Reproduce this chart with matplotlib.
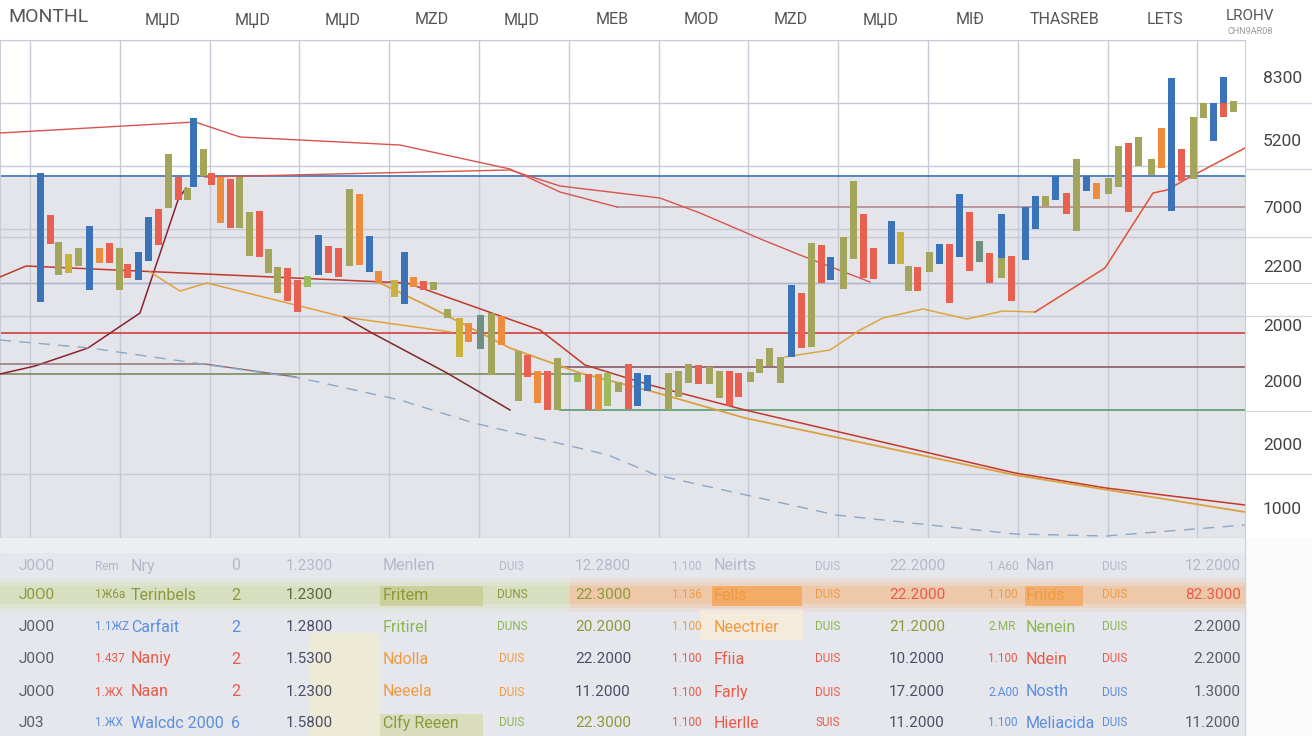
import matplotlib
matplotlib.use("Agg")
import matplotlib.pyplot as plt
from matplotlib.patches import Rectangle

plt.rcParams['font.family'] = ['Roboto', 'DejaVu Sans']

# candles: day, low, high, colour code
day = [40, 50, 58, 68, 78, 89, 99, 109, 119, 127, 138, 148, 158, 168, 178, 187, 193, 203, 211, 220,
       230, 239, 249, 259, 268, 277, 287, 297, 307, 318, 328, 338, 349, 359, 369, 378, 394, 404, 413, 423,
       433, 447, 459, 468, 480, 491, 501, 518, 527, 537, 547, 557, 577, 588, 598, 607, 618, 628, 637, 647,
       668, 678, 688, 698, 709, 719, 729, 738, 750, 759, 769, 780, 791, 801, 811, 821, 830, 843, 853, 863,
       873, 891, 900, 908, 917, 929, 939, 949, 959, 969, 979, 989, 1001, 1001, 1011, 1025, 1035, 1045, 1055, 1066,
       1076, 1086, 1096, 1108, 1118, 1128, 1138, 1151, 1161, 1171, 1181, 1193, 1203, 1213, 1223, 1223, 1233]
low = [298, 356, 325, 327, 334, 310, 337, 337, 310, 322, 320, 339, 355, 392, 400, 400, 413, 424, 415, 377,
       372, 372, 344, 343, 327, 307, 299, 288, 313, 325, 327, 323, 334, 335, 328, 317, 303, 296, 313, 310,
       310, 282, 243, 258, 251, 225, 255, 199, 223, 197, 190, 190, 218, 190, 190, 194, 208, 191, 194, 209,
       190, 203, 217, 216, 216, 202, 194, 203, 218, 227, 234, 217, 243, 252, 253, 317, 320, 311, 341, 322,
       321, 336, 336, 309, 309, 328, 336, 297, 343, 329, 338, 317, 322, 342, 299, 340, 371, 394, 400, 386,
       369, 409, 401, 406, 413, 388, 434, 425, 432, 389, 419, 421, 482, 459, 497, 483, 488]
high = [427, 385, 358, 346, 352, 374, 352, 357, 352, 336, 348, 383, 391, 446, 423, 412, 482, 451, 427, 423,
        421, 423, 388, 389, 351, 333, 332, 320, 324, 365, 354, 352, 411, 406, 364, 329, 320, 348, 323, 319,
        318, 291, 282, 277, 285, 287, 284, 249, 245, 229, 229, 242, 225, 226, 226, 227, 218, 236, 227, 225,
        227, 229, 236, 235, 233, 229, 229, 227, 228, 241, 252, 243, 315, 307, 357, 355, 343, 363, 419, 386,
        352, 379, 368, 334, 333, 348, 356, 356, 406, 388, 359, 347, 342, 386, 344, 393, 404, 404, 424, 407,
        441, 424, 417, 422, 454, 457, 463, 441, 472, 522, 451, 483, 497, 497, 523, 497, 499]
kind = list("broyobnrorbbroroborn" "rooroorrgbrronbnybnr" "ooyntonornrogrngorbb"
            "oooroorroooobrorboor" "rbyorobrbrtrobrbbobr" "obnooroonbroobbro")

# line series (day, level)
red_top_d = [0, 195, 240, 400, 510, 560, 617]
red_top_v = [467, 478, 463, 455, 431, 408, 393]
red_mid_d = [205, 510, 560, 660, 700, 763, 800, 870]
red_mid_v = [423, 430, 414, 402, 387, 360, 345, 318]
rise_d = [0, 35, 88, 140, 178, 186]
rise_v = [226, 234, 252, 287, 400, 412]
red_long_d = [0, 26, 407, 540, 585, 650, 745, 1015, 1106, 1245]
red_long_v = [323, 334, 317, 270, 235, 215, 190, 127, 112, 95]
orange_d = [150, 180, 207, 344, 451]
orange_v = [328, 309, 317, 283, 268]
tan_d = [380, 430, 510, 580, 654, 745, 1015, 1245]
tan_v = [317, 293, 252, 227, 208, 182, 125, 88]
drop_d = [344, 372, 447, 510]
drop_v = [283, 267, 227, 190]
tan_r_d = [785, 830, 860, 883, 923, 967, 1003, 1035]
tan_r_v = [243, 250, 270, 282, 291, 281, 289, 288]
rise_r_d = [1035, 1105, 1153, 1167, 1190, 1245]
rise_r_v = [288, 332, 407, 410, 423, 452]
mauve_d = [0, 205, 296]
mauve_v = [236, 236, 223]
dash_d = [0, 90, 300, 400, 474, 608, 656, 836, 1015, 1106, 1245]
dash_v = [260, 252, 222, 200, 177, 145, 125, 85, 66, 64, 75]
levels = {'blue': (0, 1245, 424), 'mauve': (617, 1245, 393), 'red': (0, 1245, 267),
          'mauve2': (560, 1245, 233), 'green1': (0, 580, 226), 'green2': (560, 1245, 190)}

ytick_v = [523, 460, 393, 334, 275, 219, 156, 92]
ytick_lab = ['8300', '5200', '7000', '2200', '2000', '2000', '2000', '1000']
month_lab = ['MЏD', 'MЏD', 'MЏD', 'MZD', 'MЏD', 'MEB', 'MOD', 'MZD', 'MЏD', 'MIÐ', 'THASREB', 'LETS']
month_pos = [163, 253, 343, 432, 522, 612, 701, 791, 881, 970, 1065, 1165]

table_rows = [
    ["J0O0", "Rem", "Nry", "0", "1.2300", "Menlen", "DUI3", "12.2800", "1.100", "Neirts", "DUIS", "22.2000", "1.A60", "Nan", "DUIS", "12.2000"],
    ["J0O0", "1Ж6a", "Terinbels", "2", "1.2300", "Fritem", "DUNS", "22.3000", "1.136", "Fells", "DUIS", "22.2000", "1.100", "Frilds", "DUIS", "82.3000"],
    ["J0O0", "1.1ЖZ", "Carfait", "2", "1.2800", "Fritirel", "DUNS", "20.2000", "1.100", "Neectrier", "DUIS", "21.2000", "2.MR", "Nenein", "DUIS", "2.2000"],
    ["J0O0", "1.437", "Naniy", "2", "1.5300", "Ndolla", "DUIS", "22.2000", "1.100", "Ffiia", "DUIS", "10.2000", "1.100", "Ndein", "DUIS", "2.2000"],
    ["J0O0", "1.ЖX", "Naan", "2", "1.2300", "Neeela", "DUIS", "11.2000", "1.100", "Farly", "DUIS", "17.2000", "2.A00", "Nosth", "DUIS", "1.3000"],
    ["J03", "1.ЖX", "Walcdc 2000", "6", "1.5800", "Clfy Reeen", "DUIS", "22.3000", "1.100", "Hierlle", "SUIS", "11.2000", "1.100", "Meliacida", "DUIS", "11.2000"],
]
table_cols = ["ffffffffffffffff", "OOOOVOOONNNRNNNR", "kBBBvGGONNGOGGGk",
              "kRRRvNNvRRRvRRRk", "kRRRvNNvRRRvBBBk", "kBBBvOGORRRvBBBk"]

bar_col = {'b': '#3b73b9', 'r': '#e8604f', 'o': '#a3a55a', 'n': '#ee8c3e', 'g': '#9bbb5c',
           'y': '#c9b13e', 't': '#6f8f80'}
txt_col = {'f': '#b4b8cc', 'k': '#585c68', 'v': '#4a4e68', 'O': '#8a9a3a', 'V': '#5e6640',
           'B': '#5b8ee0', 'R': '#e85a4a', 'N': '#f09a40', 'G': '#8ab850'}

fig = plt.figure(figsize=(13.12, 7.36), dpi=100)
fig.patch.set_facecolor('white')
ax = fig.add_axes([0, 198 / 736, 1245 / 1312, 498 / 736])
ax.set_xlim(0, 1245)
ax.set_ylim(62, 560)
ax.set_facecolor('#e4e5ea')
ax.axhspan(424, 560, color='white', zorder=0)

for v in [560, 497, 434, 371, 363, 317, 284, 126, 62]:
    ax.axhline(v, color='#c5cad6', lw=1, zorder=1)
ax.axhline(317, color='#a9b6c9', lw=1, zorder=1)
for v in [497, 431, 363, 317, 284, 189, 126]:
    ax.plot([1245, 1312], [v, v], color='#d3d7e0', lw=1, clip_on=False)
for d in range(14):
    ax.axvline(30 + 89.8 * d, color='#c5cad6', lw=1, zorder=1)

lw = 1.1
ax.plot(red_top_d, red_top_v, color='#d9534f', lw=1, zorder=3)
ax.plot(red_mid_d, red_mid_v, color='#d9534f', lw=1, zorder=3)
ax.plot(rise_d, rise_v, color='#8b2030', lw=lw, zorder=3)
ax.plot(red_long_d, red_long_v, color='#c0392b', lw=lw, zorder=3)
ax.plot(orange_d, orange_v, color='#e3a040', lw=lw, zorder=3)
ax.plot(tan_d, tan_v, color='#dba040', lw=1.3, zorder=3)
ax.plot(drop_d, drop_v, color='#7a2a2a', lw=lw, zorder=3)
ax.plot(tan_r_d, tan_r_v, color='#d9a840', lw=lw, zorder=3)
ax.plot(rise_r_d, rise_r_v, color='#e0503a', lw=lw, zorder=3)
ax.plot(mauve_d, mauve_v, color='#8a6a6a', lw=1, zorder=3)
ax.plot(dash_d, dash_v, color='#8aa8c8', lw=1, ls=(0, (8, 6)), zorder=3)
lvl_col = {'blue': '#3a6eb5', 'mauve': '#b08a90', 'red': '#d04040', 'mauve2': '#8a5a68',
           'green1': '#7a8a60', 'green2': '#5a9a70'}
for name, (x0, x1, v) in levels.items():
    ax.plot([x0, x1], [v, v], color=lvl_col[name], lw=1.2, zorder=2)

hgt = [h - l for h, l in zip(high, low)]
ax.bar(day, hgt, bottom=low, width=7, color=[bar_col[k] for k in kind], zorder=4)

ax.yaxis.tick_right()
ax.set_yticks(ytick_v, ytick_lab)
ax.tick_params(axis='y', length=0, pad=13, labelsize=12.5, labelcolor='#444444')
ax.xaxis.tick_top()
ax.set_xticks(month_pos, month_lab)
ax.tick_params(axis='x', length=0, pad=9, labelsize=11.5, labelcolor='#555555')
for s in ax.spines.values():
    s.set_color('#c8ccd6')
ax.spines['bottom'].set_visible(False)
fig.text(8 / 1312, 1 - 17 / 736, 'MONTHL', fontsize=14, color='#555555', va='center')
fig.text(1250 / 1312, 1 - 16 / 736, 'LROHV', fontsize=11, color='#555555', va='center', ha='center')
fig.text(1250 / 1312, 1 - 31 / 736, 'CHN9AR08', fontsize=6.5, color='#999999', va='center', ha='center')

# table
at = fig.add_axes([0, 0, 1, 198 / 736])
at.set_xlim(0, 1312)
at.set_ylim(198, 0)
at.axis('off')
at.add_patch(Rectangle((0, 0), 1245, 198, color='#e6e7ec', zorder=0))
at.add_patch(Rectangle((0, 0), 1245, 14, color='#eceef2', zorder=0))
at.add_patch(Rectangle((1245, 0), 67, 198, color='#fafafb', zorder=0))
at.plot([1245, 1245], [0, 198], color='#d0d3dc', lw=1)
for a, w in [(0.12, 34), (0.18, 26), (0.25, 18)]:
    at.add_patch(Rectangle((0, 57 - w / 2), 570, w, color='#c8d890', alpha=a, lw=0, zorder=1))
    at.add_patch(Rectangle((570, 57 - w / 2), 675, w, color='#f7a860', alpha=a, lw=0, zorder=1))
at.add_patch(Rectangle((310, 95), 70, 103, color='#f2efc8', alpha=0.6, lw=0, zorder=1))
at.add_patch(Rectangle((380, 48), 103, 20, color='#c8cc90', alpha=0.8, lw=0, zorder=1))
at.add_patch(Rectangle((712, 48), 90, 20, color='#f5a860', alpha=0.9, lw=0, zorder=1))
at.add_patch(Rectangle((1025, 48), 58, 20, color='#f5a860', alpha=0.8, lw=0, zorder=1))
at.add_patch(Rectangle((700, 72), 103, 30, color='#f6ecdc', alpha=0.9, lw=0, zorder=1))
at.add_patch(Rectangle((380, 176), 103, 22, color='#d8dcb8', alpha=0.9, lw=0, zorder=1))

col_x = [19, 95, 131, 236, 309, 383, 512, 631, 672, 714, 828, 945, 988, 1026, 1115, 1241]
col_ha = ['left', 'left', 'left', 'center', 'center', 'left', 'center', 'right',
          'left', 'left', 'center', 'right', 'left', 'left', 'center', 'right']
col_fs = [11, 8.5, 11.5, 11.5, 11, 11.5, 8.5, 11, 8.5, 11.5, 8.5, 11, 8.5, 11.5, 8.5, 11]
row_y = [28, 57, 89, 121, 154, 185]
for r, row in enumerate(table_rows):
    for c, s in enumerate(row):
        at.text(col_x[c], row_y[r], s, ha=col_ha[c], va='center', fontsize=col_fs[c],
                color=txt_col[table_cols[r][c]], zorder=3)

fig.savefig('out.png', dpi=100)
